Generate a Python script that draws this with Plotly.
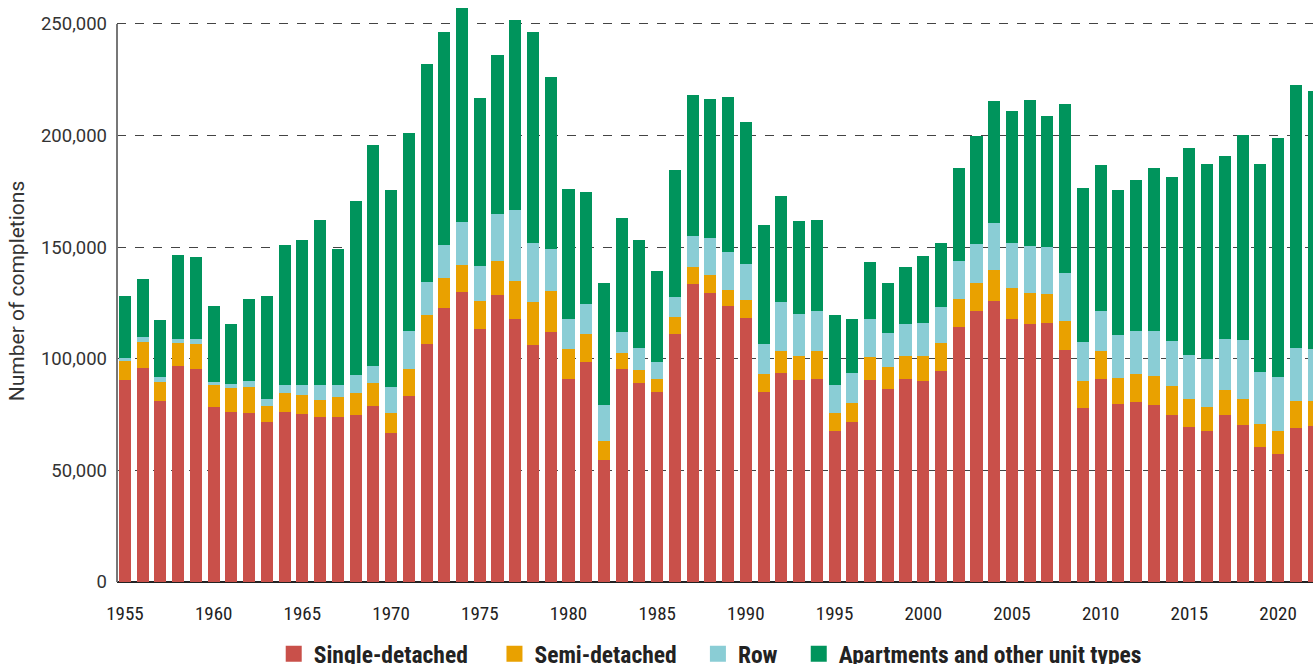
import plotly.graph_objects as go

years = list(range(1955, 2023))

single = [90400, 95800, 81000, 96800, 95400, 78300, 76000, 75700, 71600, 76000,
          75200, 73800, 73800, 74600, 78800, 66600, 83200, 106600, 122700, 129900,
          113300, 128500, 117700, 106000, 111900, 90900, 98500, 54600, 95400, 89100,
          85100, 111000, 133500, 129400, 123600, 118200, 85100, 93500, 90400, 90900,
          67600, 71600, 90400, 86300, 90900, 89900, 94400, 114100, 121300, 125800,
          117700, 115500, 116000, 103800, 77900, 90900, 79600, 80500, 79300, 74600,
          69300, 67600, 74600, 70200, 60400, 57300, 68800, 69800]
semi = [8600, 11600, 8600, 10300, 11200, 9900, 10800, 11600, 7200, 8600,
        8500, 7700, 9100, 10000, 10300, 9100, 12200, 13000, 13400, 12000,
        12500, 15300, 17200, 19400, 18500, 13400, 12500, 8500, 7000, 5800,
        5800, 7700, 7600, 8100, 7200, 8100, 8100, 10000, 10800, 12600,
        8100, 8500, 10300, 10000, 10300, 11300, 12700, 12700, 12500, 13900,
        13900, 13900, 13000, 13100, 12000, 12600, 11700, 12700, 12800, 13100,
        12600, 10700, 11400, 11700, 10300, 10300, 12200, 11200]
row = [1200, 2300, 2200, 1700, 2200, 1400, 1700, 2600, 3100, 3600,
       4500, 6700, 5300, 8100, 7700, 11600, 17000, 14800, 14900, 19400,
       15800, 21100, 31700, 26500, 18700, 13400, 13600, 16200, 9500, 9900,
       7600, 9000, 13900, 16600, 16900, 16100, 13400, 21900, 18700, 17800,
       12500, 13400, 17000, 15200, 14300, 14800, 16100, 17000, 17600, 21100,
       20300, 21100, 21200, 21600, 17500, 17800, 19400, 19200, 20300, 20200,
       19700, 21600, 22800, 26400, 23300, 24200, 23800, 23300]
apartments = [27800, 26000, 25600, 37700, 36700, 34000, 27000, 36900, 46100, 62800,
              65000, 74000, 60900, 78000, 99000, 88200, 88700, 97800, 95400, 95900,
              75300, 71200, 85300, 94500, 77200, 58400, 50100, 54500, 51100, 48400,
              40800, 56900, 63300, 62300, 69700, 63700, 53300, 47600, 41700, 40900,
              31400, 24200, 25600, 22300, 25600, 30000, 28700, 41700, 48200, 54700,
              59200, 65500, 58600, 75700, 69200, 65600, 64800, 67800, 73100, 73500,
              92800, 87300, 82000, 92000, 93200, 107100, 117900, 115700]

series = [
    ("Single-detached", single, "#C9504A"),
    ("Semi-detached", semi, "#E9A100"),
    ("Row", row, "#8ACDD5"),
    ("Apartments and other unit types", apartments, "#00945C"),
]
legend_pad = ["\u00a0" * 4, "\u00a0" * 3, "\u00a0" * 3, ""]

fig = go.Figure()
for name, vals, color in series:
    fig.add_trace(go.Bar(x=years, y=vals, name=name, marker_color=color,
                         marker_line_width=0, showlegend=False))
# legend entries with larger square swatches
for (name, vals, color), pad in zip(series, legend_pad):
    fig.add_trace(go.Scatter(x=[None], y=[None], mode="markers", name=name + pad,
                             marker=dict(symbol="square", size=16, color=color),
                             showlegend=True))

narrow = "Liberation Sans Narrow, Roboto Condensed, DejaVu Sans Condensed, Arial Narrow, sans-serif"

fig.update_layout(
    barmode="stack",
    bargap=0.32,
    width=1313, height=664,
    margin=dict(l=117, r=0, t=0, b=82, autoexpand=False),
    plot_bgcolor="white", paper_bgcolor="white",
    font=dict(family="Roboto, sans-serif", color="#333"),
    showlegend=True,
    legend=dict(orientation="h", x=0.496, xanchor="center",
                y=-0.1237, yanchor="middle",
                font=dict(family=narrow, size=23.5, color="#222", weight="bold"),
                itemwidth=30, itemsizing="trace", traceorder="normal",
                bgcolor="rgba(0,0,0,0)"),
    shapes=[dict(type="line", xref="paper", x0=0, x1=0, yref="y", y0=0, y1=250000,
                 line=dict(color="#777", width=2), layer="above")],
)
fig.update_xaxes(
    range=[1954.55, 2021.97], tickmode="linear", tick0=1955, dtick=5,
    showgrid=False, ticks="", ticklabelstandoff=18, automargin=False,
    tickfont=dict(family=narrow, size=19, color="#222"),
    showline=False, zeroline=False,
)
fig.update_yaxes(
    range=[0, 260750], tickmode="linear", tick0=0, dtick=50000, tickformat=",",
    showgrid=True, gridcolor="#444", griddash="dash", gridwidth=1,
    zeroline=True, zerolinecolor="#222", zerolinewidth=2,
    showline=False, automargin=False,
    ticks="", ticklabelstandoff=9,
    tickfont=dict(family="Roboto, sans-serif", size=18.5, color="#333"),
    title=dict(text="Number of completions", standoff=10,
               font=dict(family="Roboto, sans-serif", size=21, color="#333")),
)

fig.write_html(
    "out.html",
    config={"displayModeBar": False},
    post_script="document.body.style.margin='0';document.body.style.overflow='hidden';",
)
